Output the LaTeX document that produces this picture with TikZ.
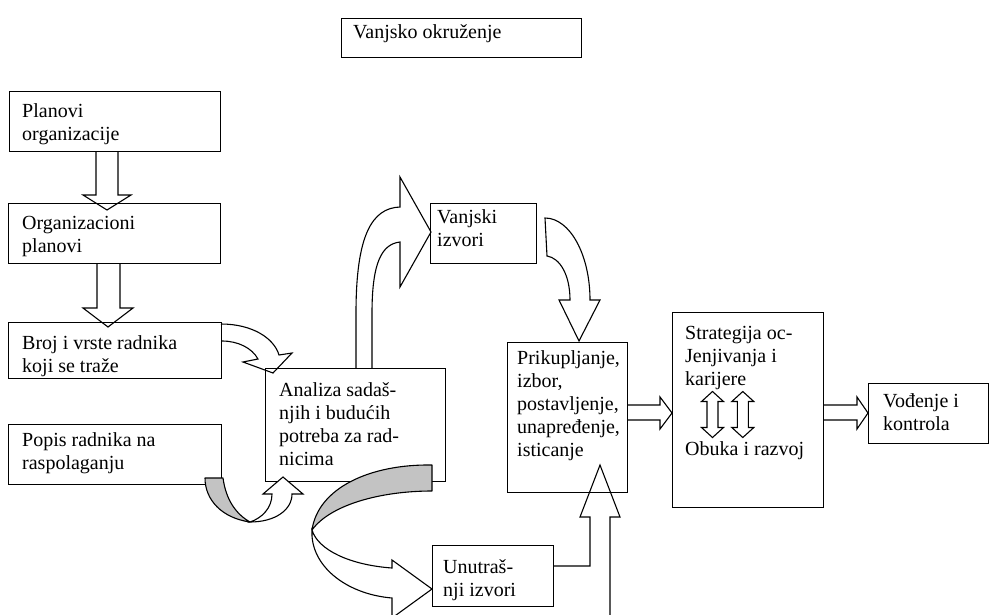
\documentclass[tikz,border=0pt]{standalone}
\usepackage{fontspec}
\setmainfont{Liberation Serif}
\definecolor{ribbon}{RGB}{195,195,195}
\begin{document}
\begin{tikzpicture}[x=1pt,y=-1pt,
  box/.style={draw, line width=1.1pt, inner sep=0pt, anchor=north west},
  txt/.style={anchor=base west, inner sep=0pt, font=\fontsize{20}{23}\selectfont},
  blk/.style={draw, line width=1.1pt, line join=miter},
  twist/.style={draw, line width=1.1pt, fill=ribbon, line join=round},
  band/.style={draw, line width=1.1pt, fill=white, line join=miter}]
\clip (0,0) rectangle (990,614);
\fill[white] (0,0) rectangle (990,614);

% boxes
\node[box, minimum width=240pt, minimum height=39pt] (env) at (341,18) {};
\node[box, minimum width=211pt, minimum height=60pt] (plan) at (9,91) {};
\node[box, minimum width=212pt, minimum height=60pt] (org) at (8,203) {};
\node[box, minimum width=213pt, minimum height=56pt] (broj) at (8,322) {};
\node[box, minimum width=213pt, minimum height=60pt] (popis) at (8,424) {};
\node[box, minimum width=180pt, minimum height=113pt] (anal) at (265,368) {};
\node[box, minimum width=106pt, minimum height=60pt] (vanj) at (430,203) {};
\node[box, minimum width=120pt, minimum height=150pt] (prik) at (507,342) {};
\node[box, minimum width=121pt, minimum height=61pt] (unut) at (432,545) {};
\node[box, minimum width=151pt, minimum height=195pt] (strat) at (672,312) {};
\node[box, minimum width=120pt, minimum height=60pt] (vod) at (868,383) {};

% labels
\node[txt] (envA) at (353,38) {Vanjsko okruženje};
\node[txt] (planA) at (22,117) {Planovi};
\node[txt] (planB) at (22,140) {organizacije};
\node[txt] (orgA) at (22,229) {Organizacioni};
\node[txt] (orgB) at (22,252) {planovi};
\node[txt] (brojA) at (22,349) {Broj i vrste radnika};
\node[txt] (brojB) at (22,372) {koji se traže};
\node[txt] (popisA) at (22,446) {Popis radnika na};
\node[txt] (popisB) at (22,469) {raspolaganju};
\node[txt] (analA) at (279,396) {Analiza sadaš-};
\node[txt] (analB) at (279,419) {njih i budućih};
\node[txt] (analC) at (279,442) {potreba za rad-};
\node[txt] (analD) at (279,465) {nicima};
\node[txt] (vanjA) at (437,223) {Vanjski};
\node[txt] (vanjB) at (437,246) {izvori};
\node[txt] (prikA) at (517,364) {Prikupljanje,};
\node[txt] (prikB) at (517,387) {izbor,};
\node[txt] (prikC) at (517,410) {postavljenje,};
\node[txt] (prikD) at (517,433) {unapređenje,};
\node[txt] (prikE) at (517,456) {isticanje};
\node[txt] (unutA) at (443,573) {Unutraš-};
\node[txt] (unutB) at (443,596) {nji izvori};
\node[txt] (stratA) at (685,339) {Strategija oc-};
\node[txt] (stratB) at (685,362) {Jenjivanja i};
\node[txt] (stratC) at (685,385) {karijere};
\node[txt] (stratD) at (685,455) {Obuka i razvoj};
\node[txt] (vodA) at (883,407) {Vođenje i};
\node[txt] (vodB) at (883,430) {kontrola};

% straight block arrows
\draw[blk] (96,151) -- (96,195) -- (83,195) -- (107,210) -- (131,195) -- (118,195) -- (118,151);
\draw[blk] (97,263) -- (97,308) -- (83,308) -- (108,327) -- (133,308) -- (120,308) -- (120,263);
\draw[blk] (627,405) -- (660,405) -- (660,397) -- (672,413) -- (660,429) -- (660,420) -- (627,420);
\draw[blk] (823,405) -- (857,405) -- (857,397) -- (868,413) -- (857,429) -- (857,420) -- (823,420);

% double arrows inside the strategy box
\foreach \c in {712.5,742.8}{
  \draw[blk] (\c-5.5,401.5) -- (\c-11,401.5) -- (\c,391.5) -- (\c+11,401.5) -- (\c+5.5,401.5)
    -- (\c+5.5,427.5) -- (\c+11,427.5) -- (\c,437.5) -- (\c-11,427.5) -- (\c-5.5,427.5) -- cycle;
}

% curved arrow from Broj to Analiza
\draw[blk] (221,324) .. controls (252,324) and (274,338) .. (279,355) -- (292,353) -- (273,373)
  -- (243,362) -- (258,359) .. controls (252,348) and (238,341) .. (222,341);

% curved arrow from Analiza up to Vanjski izvori
\draw[blk] (356,368) -- (356,313) .. controls (356,235) and (372,208) .. (400,207) -- (400,177)
  -- (431,232) -- (400,287) -- (400,242) .. controls (382,244) and (372,262) .. (372,313) -- (372,368);

% curved arrow from Vanjski izvori down to Prikupljanje
\draw[blk] (545,218) .. controls (570,218) and (590,255) .. (590,300) -- (600,300) -- (579,341)
  -- (559,300) -- (570,300) .. controls (570,275) and (560,258) .. (547,256) -- cycle;

% arrow from Unutrasnji izvori up into Prikupljanje
\draw[blk] (553,566) -- (590,566) -- (590,517) -- (580,517) -- (600,465) -- (620,517) -- (610,517) -- (610,620);

% twisted ribbon from Popis to Analiza
\draw[twist] (205,478) -- (223,478) .. controls (226,500) and (236,514) .. (250,522)
  .. controls (222,518) and (205,500) .. (205,478) -- cycle;
\draw[band] (250,522) .. controls (275,522) and (292,510) .. (292,494) -- (303,494) -- (283,477)
  -- (263,494) -- (272,494) .. controls (272,508) and (262,518) .. (250,522) -- cycle;

% twisted ribbon from Analiza to Unutrasnji izvori
\draw[twist] (432,465) .. controls (370,464) and (318,488) .. (312,530)
  .. controls (330,505) and (380,491) .. (432,491) -- cycle;
\draw[band] (312,530) .. controls (318,550) and (350,565) .. (392,568) -- (392,560) -- (432,589)
  -- (392,618) -- (392,598) .. controls (345,594) and (310,565) .. (312,530) -- cycle;
\end{tikzpicture}
\end{document}
